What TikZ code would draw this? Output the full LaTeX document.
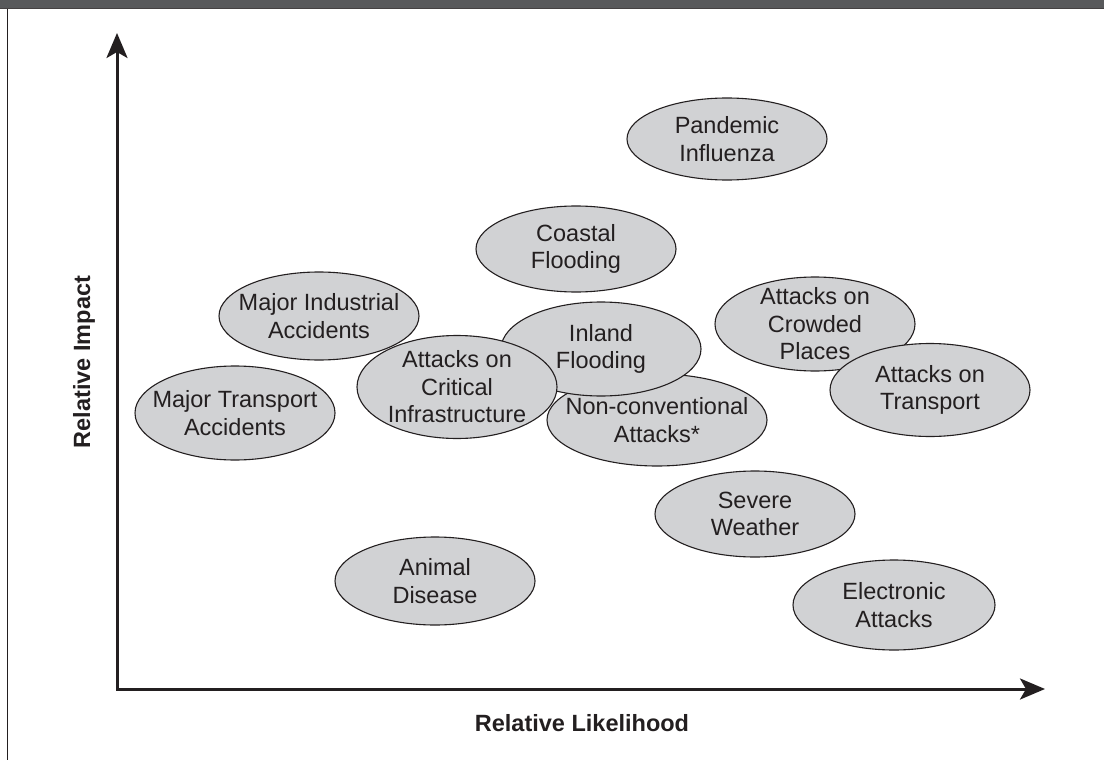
\documentclass[tikz,border=0pt]{standalone}
\usepackage{fontspec}
\setmainfont{Liberation Sans}
\usetikzlibrary{arrows.meta, shapes.geometric, positioning}
\definecolor{RiskFill}{RGB}{209,210,212}
\definecolor{InkDark}{RGB}{35,31,32}
\definecolor{BarGray}{RGB}{88,89,91}

\begin{document}
\begin{tikzpicture}[x=1pt, y=-1pt,
    risk/.style={ellipse, draw=InkDark, line width=1.1pt, fill=RiskFill,
      inner sep=0pt, minimum width=200pt, minimum height=88pt},
    risktext/.style={align=center, text=InkDark, inner sep=0pt,
      font=\fontsize{23.5}{27.5}\selectfont},
    axis/.style={InkDark, line width=3pt, line join=miter,
      arrows={Stealth[length=25pt,width=21pt,inset=6pt]-Stealth[length=25pt,width=21pt,inset=6pt]}},
    axislabel/.style={text=InkDark, font=\fontsize{23.5}{27}\selectfont\bfseries}]
  \useasboundingbox (0,0) rectangle (1104,760);
  % Frame: dark bar on top, rule on the left
  \fill[BarGray] (0,0) rectangle (1104,9);
  \draw[InkDark!85, line width=1pt] (0,9) -- (1104,9);
  \draw[InkDark, line width=1.3pt] (7.5,9) -- (7.5,760);
  % Axes
  \coordinate (ytip) at (117,33);
  \coordinate (xtip) at (1045,689);
  \draw[axis] (ytip) |- (xtip);
  \node[axislabel, rotate=90] (impact) at (84,362) {Relative Impact};
  \node[axislabel] (likelihood) at (582,723) {Relative Likelihood};
  % Risks, back to front
  \node[risk, minimum height=82pt, label={[risktext]center:{Pandemic\\Influenza}}] (pandemic) at (727,139) {};
  \node[risk, minimum height=86pt, label={[risktext]center:{Coastal\\Flooding}}] (coastal) at (576,249) {};
  \node[risk, label={[risktext]center:{Major Industrial\\Accidents}}] (industrial) at (319,316) {};
  \node[risk, minimum height=94pt, label={[risktext]center:{Attacks on\\Crowded\\Places}}] (crowded) at (815,324) {};
  \node[risk, minimum height=93pt, label={[risktext]center:{Attacks on\\Transport}}] (transportatt) at (930,390) {};
  \node[risk, minimum width=220pt, minimum height=92pt, label={[risktext]center:{Non-conventional\\Attacks*}}] (nonconv) at (657,420) {};
  \node[risk, minimum height=94pt, label={[risktext]center:{Inland\\Flooding}}] (inland) at (601,349) {};
  \node[risk, minimum height=103pt, label={[risktext]center:{Attacks on\\Critical\\Infrastructure}}] (critical) at (457,387) {};
  \node[risk, minimum height=94pt, label={[risktext]center:{Major Transport\\Accidents}}] (transportacc) at (235,413) {};
  \node[risk, minimum height=86pt, label={[risktext]center:{Severe\\Weather}}] (weather) at (755,514) {};
  \node[risk, label={[risktext]center:{Animal\\Disease}}] (animal) at (435,581) {};
  \node[risk, minimum width=202pt, minimum height=90pt, label={[risktext]center:{Electronic\\Attacks}}] (electronic) at (894,605) {};
\end{tikzpicture}
\end{document}
